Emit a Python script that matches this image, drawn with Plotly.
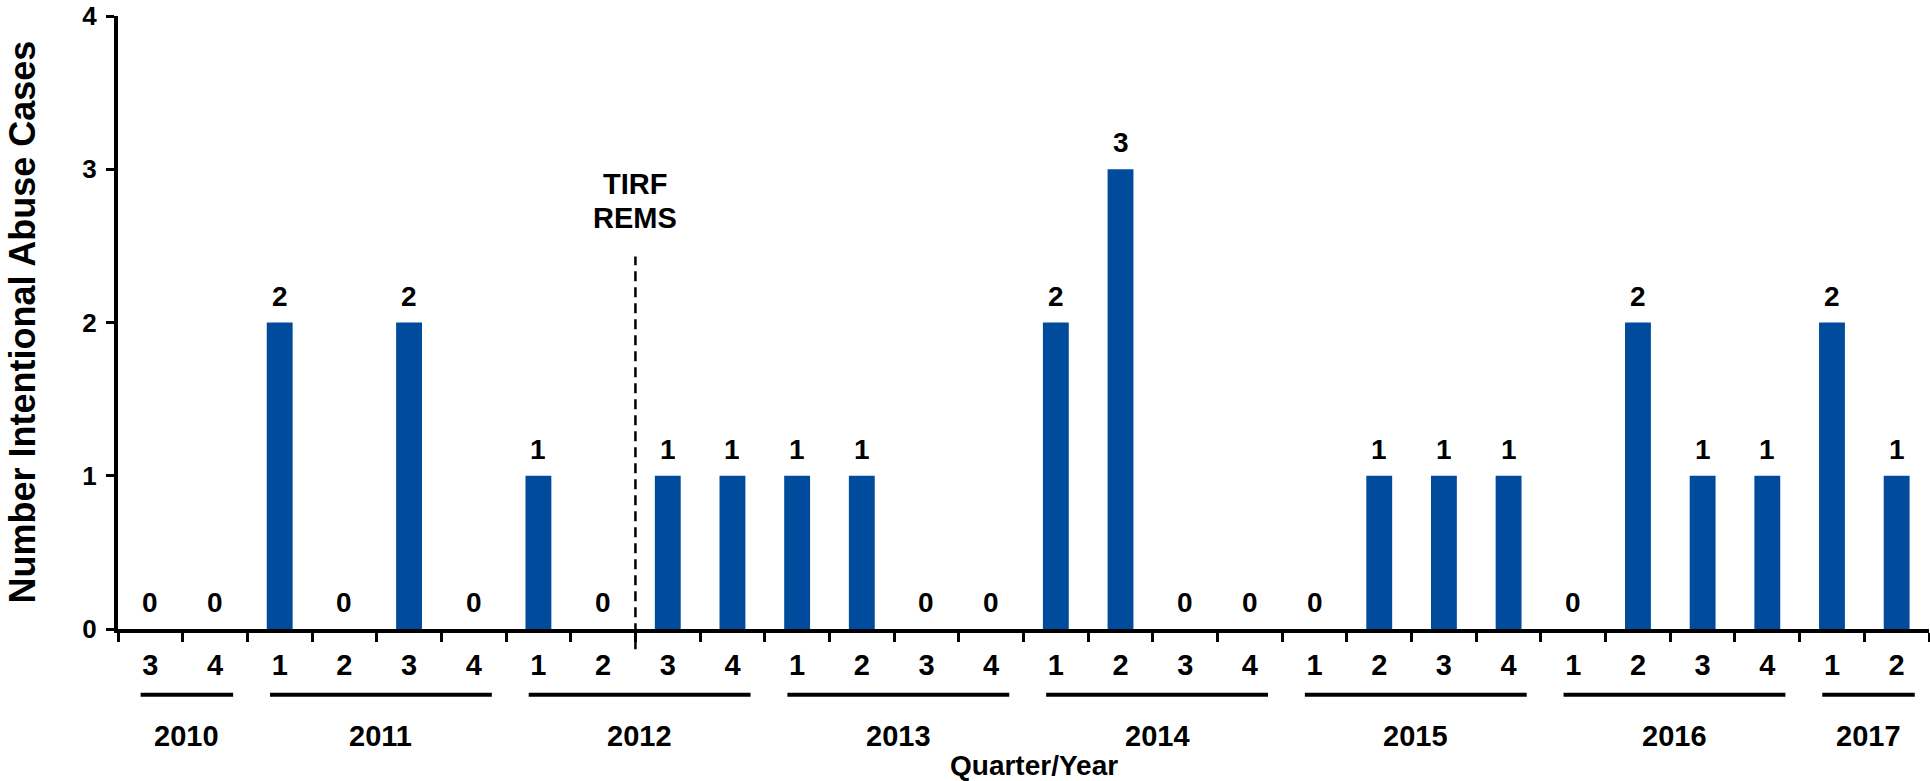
import plotly.graph_objects as go

# quarter-by-quarter counts, 2010 Q3 .. 2017 Q2
years = ["2010"] * 2 + ["2011"] * 4 + ["2012"] * 4 + ["2013"] * 4 + ["2014"] * 4 \
    + ["2015"] * 4 + ["2016"] * 4 + ["2017"] * 2
quarters = ["3", "4",
            "1", "2", "3", "4",
            "1", "2", "3", "4",
            "1", "2", "3", "4",
            "1", "2", "3", "4",
            "1", "2", "3", "4",
            "1", "2", "3", "4",
            "1", "2"]
cases = [0, 0,
         2, 0, 2, 0,
         1, 0, 1, 1,
         1, 1, 0, 0,
         2, 3, 0, 0,
         0, 1, 1, 1,
         0, 2, 1, 1,
         2, 1]
y_ticks = [0, 1, 2, 3, 4]
rems_start = ("2012", "3")
rems_lines = ["TIRF", "REMS"]

BAR_COLOR = "#004B9C"
FONT = "Arial, Liberation Sans, sans-serif"

xs = list(range(len(cases)))

fig = go.Figure()
fig.add_trace(go.Bar(
    x=xs, y=cases, width=0.4,
    marker=dict(color=BAR_COLOR, line=dict(width=0)),
    hoverinfo="skip", showlegend=False,
))

annotations = []
# value labels above each bar
for x, v in zip(xs, cases):
    annotations.append(dict(
        x=x, y=v, xref="x", yref="y", text=str(v), showarrow=False,
        yanchor="bottom", yshift=9,
        font=dict(family=FONT, size=28, color="black", weight="bold"),
    ))

# year underline + year label
shapes = []
year_order = []
for y in years:
    if y not in year_order:
        year_order.append(y)
for yr in year_order:
    idx = [i for i, y in enumerate(years) if y == yr]
    x0, x1 = idx[0] - 0.15, idx[-1] + 0.28
    shapes.append(dict(type="line", xref="x", yref="paper", x0=x0, x1=x1,
                       y0=-0.1073, y1=-0.1073, line=dict(color="black", width=4)))
    annotations.append(dict(
        x=(x0 + x1) / 2, y=-0.174, xref="x", yref="paper", text=yr,
        showarrow=False, yanchor="middle",
        font=dict(family=FONT, size=29, color="black", weight="bold"),
    ))

# REMS marker
rems_x = [i for i, (y, q) in enumerate(zip(years, quarters)) if (y, q) == rems_start][0] - 0.5
shapes.append(dict(type="line", xref="x", yref="paper", x0=rems_x, x1=rems_x,
                   y0=-0.033, y1=0.6075,
                   line=dict(color="black", width=2.5, dash="10px,6px")))
for k, txt in enumerate(rems_lines):
    annotations.append(dict(
        x=rems_x, y=0.7252 - k * 0.0553, xref="x", yref="paper", text=txt,
        showarrow=False, yanchor="middle",
        font=dict(family=FONT, size=29, color="black", weight="bold"),
    ))

annotations.append(dict(
    x=0.506, y=-0.222, xref="paper", yref="paper", text="Quarter/Year",
    showarrow=False, yanchor="middle",
    font=dict(family=FONT, size=28, color="black", weight="bold"),
))
annotations.append(dict(
    x=-0.053, y=0.5, xref="paper", yref="paper", text="Number Intentional Abuse Cases",
    showarrow=False, textangle=-90, xanchor="center", yanchor="middle",
    font=dict(family=FONT, size=36, color="black", weight="bold"),
))

fig.update_layout(
    width=1930, height=781,
    margin=dict(l=118, r=1, t=14, b=152),
    paper_bgcolor="white", plot_bgcolor="white",
    font=dict(family=FONT, color="black"),
    bargap=0.6,
    shapes=shapes,
    annotations=annotations,
    xaxis=dict(
        range=[-0.5, len(cases) - 0.5],
        tickmode="array", tickvals=xs, ticktext=quarters,
        ticks="", showgrid=False, zeroline=False,
        showline=True, linecolor="black", linewidth=4,
        tickfont=dict(family=FONT, size=29, color="black", weight="bold"),
        ticklabelstandoff=7,
        minor=dict(tickmode="linear", tick0=-0.5, dtick=1, ticks="outside",
                   ticklen=9, tickwidth=3, tickcolor="black", showgrid=False),
    ),
    yaxis=dict(
        range=[0, 4], tickmode="array", tickvals=y_ticks,
        ticks="outside", ticklen=8, tickwidth=3, tickcolor="black",
        showgrid=False, zeroline=False,
        showline=True, linecolor="black", linewidth=4,
        tickfont=dict(family=FONT, size=26, color="black", weight="bold"),
        ticklabelstandoff=4, ticklabeloverflow="allow",
    ),
)

fig.write_html("out.html", config={"displayModeBar": False},
               post_script="document.body.style.margin='0';")
